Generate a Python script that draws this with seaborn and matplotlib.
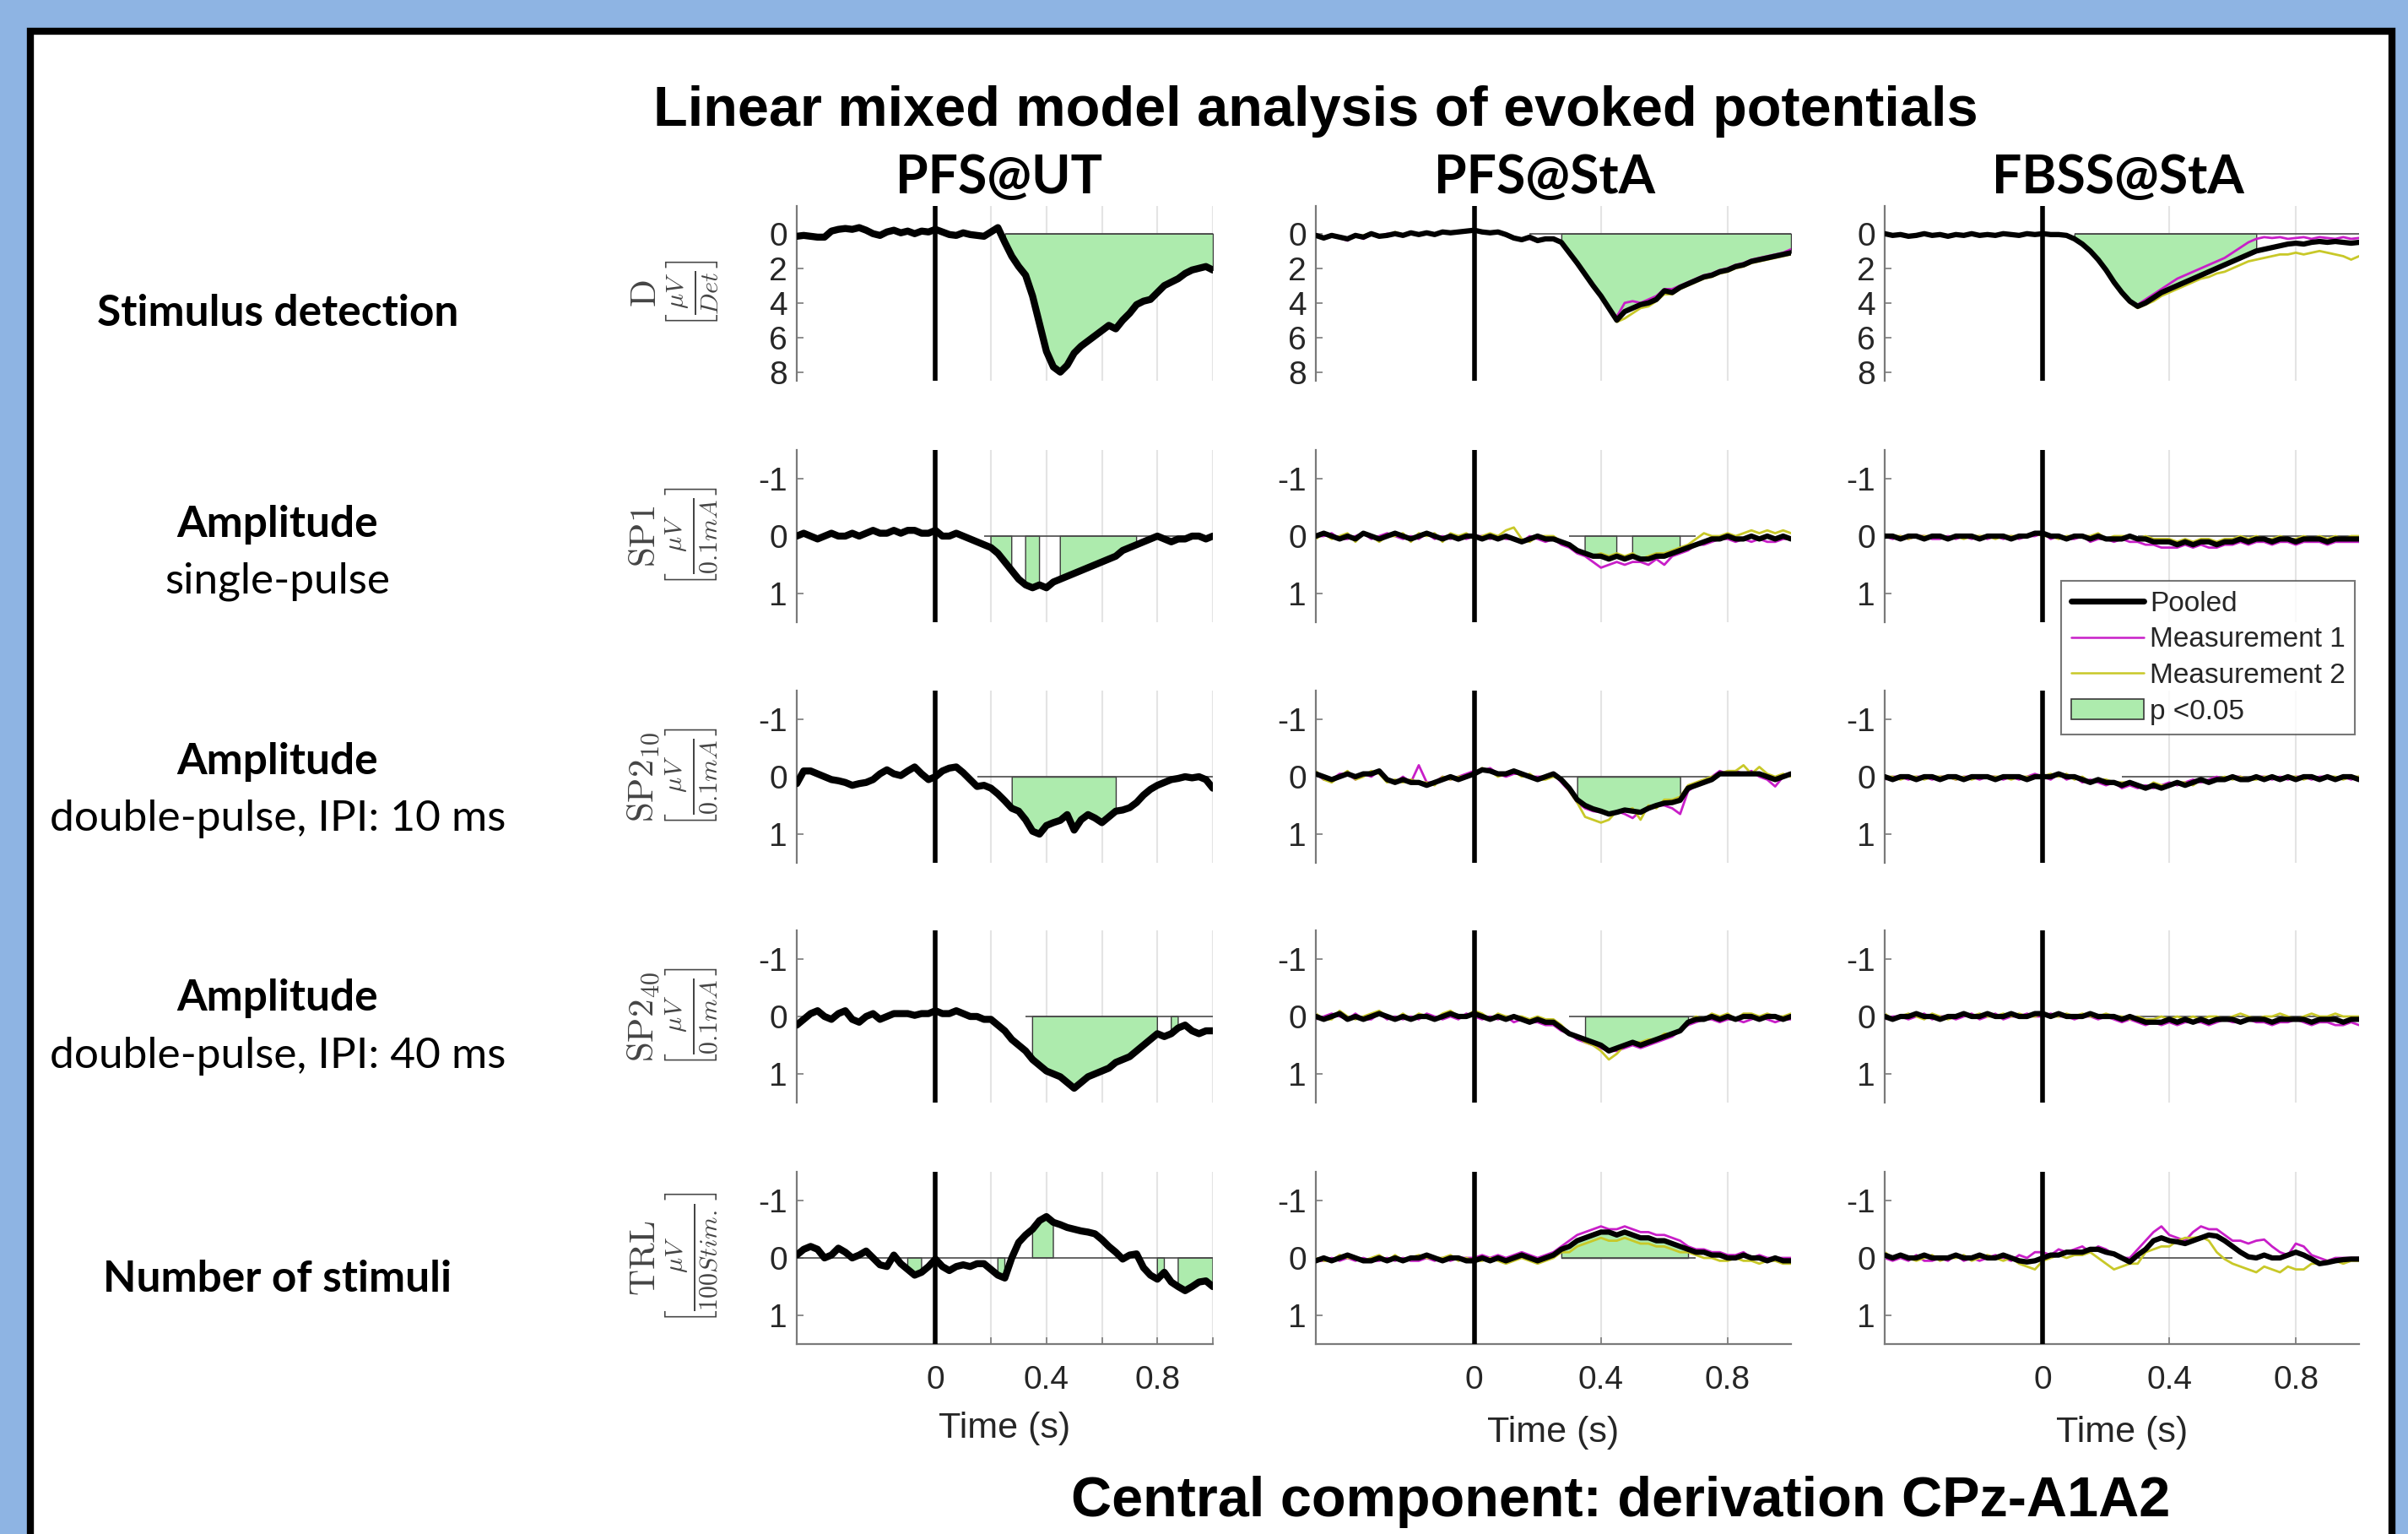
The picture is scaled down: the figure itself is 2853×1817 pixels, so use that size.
import numpy as np
import matplotlib
matplotlib.use("Agg")
import matplotlib.pyplot as plt
import seaborn as sns
from matplotlib.lines import Line2D
from matplotlib.patches import Patch, Rectangle

# time axis (s), one sample every 25 ms
t = np.linspace(-0.5, 1.0, 61)

# ---- row 1: stimulus detection (D) ----
d_ut = [0.15, 0.1, 0.15, 0.2, 0.2, -0.15, -0.25, -0.3, -0.25, -0.35,
        -0.2, 0.0, 0.1, -0.1, -0.2, -0.05, -0.15, 0.0, -0.15, -0.1,
        -0.25, -0.1, 0.05, 0.1, -0.05, 0.05, 0.1, 0.15, -0.1, -0.35,
        0.5, 1.3, 1.9, 2.4, 3.6, 5.2, 6.8, 7.7, 8.0, 7.6,
        6.9, 6.5, 6.2, 5.9, 5.6, 5.3, 5.5, 5.0, 4.6, 4.1,
        3.9, 3.8, 3.4, 3.0, 2.8, 2.6, 2.3, 2.1, 2.0, 1.9, 2.1]
d_sta = [0.1, 0.25, 0.1, 0.2, 0.3, 0.1, 0.2, 0.0, 0.15, 0.1,
         0.0, 0.1, -0.05, 0.05, -0.05, 0.05, -0.1, -0.05, -0.1, -0.15,
         -0.2, -0.1, -0.05, -0.1, 0.05, 0.25, 0.35, 0.2, 0.4, 0.3,
         0.3, 0.5, 1.1, 1.7, 2.35, 3.0, 3.6, 4.3, 5.0, 4.5,
         4.3, 4.1, 4.0, 3.8, 3.3, 3.4, 3.1, 2.9, 2.7, 2.5,
         2.4, 2.2, 2.1, 1.9, 1.8, 1.6, 1.5, 1.4, 1.3, 1.2, 1.1]
d_sta_m1 = [0.0, 0.3, 0.15, 0.25, 0.4, 0.1, 0.3, 0.05, 0.2, 0.0,
            0.05, 0.15, -0.1, 0.1, -0.1, 0.1, -0.05, -0.1, -0.05, -0.2,
            -0.15, -0.15, 0.0, -0.05, 0.1, 0.25, 0.3, 0.3, 0.45, 0.35,
            0.3, 0.55, 1.1, 1.7, 2.3, 3.0, 3.6, 4.3, 4.8, 4.0,
            3.9, 4.0, 3.8, 3.6, 3.2, 3.2, 3.0, 2.8, 2.6, 2.4,
            2.3, 2.1, 2.0, 1.8, 1.7, 1.5, 1.4, 1.3, 1.2, 1.1, 0.9]
d_sta_m2 = [0.15, 0.2, 0.05, 0.15, 0.25, 0.15, 0.1, -0.05, 0.1, 0.15,
            -0.1, 0.05, 0.0, 0.0, -0.1, 0.0, -0.15, 0.0, -0.15, -0.1,
            -0.25, -0.05, -0.1, -0.15, 0.0, 0.2, 0.4, 0.15, 0.35, 0.3,
            0.3, 0.5, 1.2, 1.8, 2.45, 3.1, 3.7, 4.4, 5.1, 4.9,
            4.6, 4.3, 4.2, 3.9, 3.5, 3.5, 3.2, 3.0, 2.8, 2.6,
            2.5, 2.3, 2.2, 2.0, 1.9, 1.7, 1.6, 1.5, 1.4, 1.3, 1.2]
d_fbss = [0.0, 0.1, 0.05, 0.15, 0.1, 0.0, 0.1, 0.05, 0.15, 0.05,
          0.1, 0.0, 0.1, 0.05, 0.1, 0.0, 0.05, 0.1, 0.0, 0.05,
          0.0, 0.05, 0.05, 0.1, 0.3, 0.6, 1.0, 1.5, 2.1, 2.8,
          3.4, 3.9, 4.2, 4.0, 3.7, 3.4, 3.2, 3.0, 2.8, 2.6,
          2.4, 2.2, 2.0, 1.8, 1.6, 1.4, 1.2, 1.0, 0.9, 0.8,
          0.7, 0.6, 0.55, 0.6, 0.5, 0.45, 0.5, 0.45, 0.5, 0.55, 0.5]
d_fbss_m1 = [0.05, 0.15, 0.0, 0.1, 0.15, 0.05, 0.05, 0.1, 0.2, 0.0,
             0.15, 0.05, 0.05, 0.1, 0.15, -0.05, 0.1, 0.05, 0.05, 0.0,
             0.05, 0.0, 0.1, 0.05, 0.3, 0.6, 1.0, 1.5, 2.1, 2.8,
             3.4, 3.9, 4.1, 3.8, 3.5, 3.2, 2.9, 2.6, 2.4, 2.2,
             2.0, 1.8, 1.6, 1.4, 1.1, 0.8, 0.5, 0.3, 0.2, 0.25,
             0.2, 0.3, 0.25, 0.2, 0.3, 0.2, 0.25, 0.3, 0.2, 0.3, 0.25]
d_fbss_m2 = [0.0, 0.05, 0.1, 0.2, 0.05, -0.05, 0.15, 0.0, 0.1, 0.1,
             0.05, -0.05, 0.15, 0.0, 0.05, 0.05, 0.0, 0.15, -0.05, 0.1,
             -0.05, 0.1, 0.0, 0.15, 0.35, 0.6, 1.05, 1.55, 2.2, 2.9,
             3.5, 4.0, 4.3, 4.1, 3.9, 3.6, 3.4, 3.2, 3.0, 2.8,
             2.6, 2.5, 2.3, 2.2, 2.0, 1.8, 1.6, 1.5, 1.4, 1.3,
             1.2, 1.2, 1.1, 1.2, 1.1, 1.0, 1.1, 1.2, 1.3, 1.5, 1.3]

# ---- row 2: amplitude single-pulse (SP1) ----
sp1_ut = [0.0, -0.05, 0.0, 0.05, 0.0, -0.05, 0.0, 0.0, -0.05, 0.0,
          -0.05, -0.1, -0.05, -0.05, -0.1, -0.05, -0.1, -0.1, -0.05, -0.05,
          -0.1, 0.0, 0.0, -0.05, 0.0, 0.05, 0.1, 0.15, 0.2, 0.3,
          0.45, 0.6, 0.75, 0.85, 0.9, 0.85, 0.9, 0.8, 0.75, 0.7,
          0.65, 0.6, 0.55, 0.5, 0.45, 0.4, 0.35, 0.25, 0.2, 0.15,
          0.1, 0.05, 0.0, 0.05, 0.1, 0.05, 0.05, 0.0, 0.0, 0.05, 0.0]
sp1_sta = [0.0, -0.05, 0.0, 0.05, 0.0, 0.05, -0.05, 0.0, 0.05, 0.0,
           -0.05, 0.0, 0.05, 0.0, -0.05, 0.0, 0.05, 0.0, 0.05, 0.0,
           0.0, 0.05, 0.0, 0.05, 0.0, 0.05, 0.1, 0.05, 0.0, 0.05,
           0.05, 0.1, 0.15, 0.25, 0.3, 0.35, 0.35, 0.4, 0.35, 0.4,
           0.35, 0.4, 0.4, 0.35, 0.35, 0.3, 0.25, 0.2, 0.15, 0.1,
           0.05, 0.05, 0.0, 0.05, 0.05, 0.0, 0.05, 0.0, 0.05, 0.0, 0.05]
sp1_sta_m1 = [0.0, 0.0, -0.05, 0.05, 0.05, 0.0, -0.05, 0.05, 0.0, -0.05,
              0.0, 0.05, 0.0, 0.05, -0.05, 0.05, 0.0, 0.05, 0.0, 0.05,
              0.0, 0.0, 0.05, 0.0, 0.05, 0.05, 0.1, 0.0, 0.05, 0.1,
              0.05, 0.15, 0.2, 0.3, 0.35, 0.45, 0.55, 0.5, 0.45, 0.5,
              0.45, 0.45, 0.5, 0.4, 0.5, 0.35, 0.3, 0.25, 0.15, 0.15,
              0.1, 0.05, 0.05, 0.1, 0.05, 0.1, 0.05, 0.1, 0.1, 0.05, 0.05]
sp1_sta_m2 = [0.05, -0.05, 0.05, 0.0, -0.05, 0.1, -0.05, 0.0, 0.1, 0.0,
              0.0, -0.05, 0.1, -0.05, 0.0, -0.05, 0.1, -0.05, 0.0, -0.05,
              0.05, 0.0, -0.05, 0.0, -0.1, -0.15, 0.05, 0.1, 0.0, 0.0,
              0.0, 0.1, 0.15, 0.25, 0.3, 0.35, 0.3, 0.35, 0.3, 0.35,
              0.3, 0.4, 0.35, 0.3, 0.3, 0.25, 0.2, 0.15, 0.05, -0.05,
              0.0, 0.0, -0.05, 0.0, -0.05, -0.1, -0.05, -0.1, -0.05, -0.1, -0.05]
sp1_fbss = [0.0, 0.0, 0.05, 0.0, 0.0, 0.05, 0.0, 0.0, 0.05, 0.0,
            0.0, 0.0, 0.05, 0.0, 0.0, 0.0, 0.05, 0.0, 0.0, -0.05,
            -0.05, 0.0, 0.0, 0.05, 0.0, 0.0, 0.05, 0.0, 0.05, 0.05,
            0.05, 0.0, 0.05, 0.05, 0.1, 0.1, 0.1, 0.15, 0.1, 0.15,
            0.1, 0.1, 0.15, 0.1, 0.1, 0.05, 0.1, 0.05, 0.05, 0.1,
            0.05, 0.05, 0.1, 0.05, 0.05, 0.05, 0.1, 0.05, 0.05, 0.05, 0.05]
sp1_fbss_m1 = [0.0, 0.05, 0.0, 0.05, 0.0, 0.0, 0.05, 0.05, 0.0, 0.05,
               0.0, 0.05, 0.0, 0.05, 0.0, 0.05, 0.0, 0.05, 0.0, 0.0,
               -0.05, 0.05, 0.0, 0.05, 0.05, 0.0, 0.1, 0.05, 0.05, 0.1,
               0.05, 0.1, 0.1, 0.15, 0.15, 0.2, 0.2, 0.2, 0.15, 0.2,
               0.15, 0.2, 0.2, 0.15, 0.15, 0.1, 0.15, 0.1, 0.1, 0.15,
               0.1, 0.1, 0.15, 0.1, 0.1, 0.1, 0.15, 0.1, 0.1, 0.1, 0.1]
sp1_fbss_m2 = [0.0, 0.0, 0.0, 0.05, 0.0, 0.0, 0.0, 0.0, 0.05, 0.0,
               0.05, 0.0, 0.0, 0.0, 0.05, 0.0, 0.0, 0.0, 0.0, -0.05,
               0.0, 0.0, 0.05, 0.0, 0.0, 0.0, 0.0, -0.05, 0.05, 0.0,
               0.0, 0.0, 0.05, 0.0, 0.05, 0.05, 0.05, 0.1, 0.05, 0.1,
               0.05, 0.05, 0.1, 0.05, 0.05, 0.0, 0.05, 0.0, 0.05, 0.05,
               0.0, 0.05, 0.05, 0.0, 0.05, 0.0, 0.05, 0.0, 0.05, 0.0, 0.0]

# ---- row 3: amplitude double-pulse, IPI 10 ms (SP2_10) ----
sp210_ut = [0.12, -0.1, -0.1, -0.05, 0.0, 0.05, 0.07, 0.1, 0.15, 0.12,
            0.1, 0.05, -0.05, -0.12, -0.05, -0.02, -0.1, -0.17, -0.05, 0.05,
            0.0, -0.1, -0.15, -0.17, -0.07, 0.05, 0.17, 0.15, 0.2, 0.3,
            0.42, 0.55, 0.6, 0.75, 0.95, 1.0, 0.85, 0.8, 0.76, 0.66,
            0.93, 0.75, 0.66, 0.72, 0.8, 0.7, 0.6, 0.58, 0.54, 0.45,
            0.32, 0.22, 0.15, 0.1, 0.05, 0.03, 0.0, 0.02, 0.0, 0.05, 0.2]
sp210_sta = [-0.05, 0.0, 0.05, 0.0, -0.05, 0.0, -0.05, -0.05, -0.1, 0.05,
             0.1, 0.05, 0.1, 0.1, 0.15, 0.1, 0.05, 0.0, 0.05, 0.0,
             -0.05, -0.12, -0.1, -0.05, -0.05, -0.1, -0.05, 0.0, 0.05, 0.0,
             -0.05, 0.05, 0.2, 0.4, 0.5, 0.56, 0.6, 0.65, 0.62, 0.58,
             0.6, 0.62, 0.55, 0.5, 0.46, 0.45, 0.41, 0.2, 0.15, 0.1,
             0.05, -0.05, -0.05, -0.05, -0.05, -0.05, -0.05, 0.0, 0.05, 0.0, -0.05]
sp210_sta_m1 = [-0.05, 0.05, 0.05, -0.05, -0.05, 0.05, -0.05, 0.0, -0.1, 0.05,
                0.1, 0.0, 0.1, -0.2, 0.1, 0.1, 0.0, 0.05, 0.0, -0.05,
                -0.1, -0.1, -0.15, -0.05, 0.0, -0.05, -0.05, 0.0, 0.0, 0.0,
                -0.05, 0.1, 0.25, 0.45, 0.55, 0.6, 0.62, 0.65, 0.6, 0.65,
                0.72, 0.6, 0.55, 0.5, 0.5, 0.55, 0.65, 0.25, 0.15, 0.1,
                0.0, -0.1, -0.05, -0.1, -0.05, -0.1, 0.0, 0.05, 0.17, 0.0, -0.05]
sp210_sta_m2 = [-0.1, 0.05, 0.1, 0.0, -0.1, 0.05, 0.0, -0.1, -0.05, 0.1,
                0.05, 0.1, 0.05, 0.1, 0.1, 0.15, 0.0, 0.05, 0.0, 0.0,
                -0.05, -0.15, -0.1, 0.0, -0.05, -0.1, 0.0, -0.05, 0.05, 0.05,
                0.0, 0.05, 0.25, 0.45, 0.7, 0.75, 0.8, 0.75, 0.6, 0.6,
                0.55, 0.75, 0.5, 0.55, 0.4, 0.4, 0.35, 0.15, 0.1, 0.05,
                0.0, -0.05, -0.1, -0.1, -0.2, -0.05, -0.17, -0.05, 0.0, -0.05, 0.0]
sp210_fbss = [0.0, 0.05, 0.0, 0.0, 0.05, 0.0, 0.0, 0.05, 0.0, 0.0,
              0.05, 0.0, 0.0, 0.0, 0.05, 0.0, 0.0, 0.0, 0.05, 0.0,
              0.0, 0.0, -0.05, 0.0, 0.0, 0.05, 0.1, 0.05, 0.1, 0.1,
              0.15, 0.1, 0.15, 0.2, 0.15, 0.2, 0.15, 0.1, 0.15, 0.1,
              0.05, 0.1, 0.05, 0.05, 0.0, 0.05, 0.05, 0.0, 0.05, 0.0,
              0.05, 0.0, 0.05, 0.0, 0.0, 0.05, 0.0, 0.05, 0.0, 0.0, 0.05]
sp210_fbss_m1 = [0.05, 0.0, 0.0, 0.05, 0.0, 0.0, 0.05, 0.0, 0.0, 0.05,
                 0.0, 0.0, 0.05, 0.0, 0.0, 0.05, 0.0, 0.05, 0.0, -0.05,
                 0.0, 0.05, -0.05, 0.05, 0.0, 0.1, 0.05, 0.1, 0.15, 0.1,
                 0.2, 0.15, 0.2, 0.15, 0.2, 0.15, 0.1, 0.15, 0.1, 0.05,
                 0.1, 0.05, 0.0, 0.05, 0.0, 0.0, 0.05, 0.0, 0.0, 0.05,
                 0.0, 0.05, 0.0, 0.0, 0.05, 0.0, 0.0, 0.05, 0.0, 0.05, 0.0]
sp210_fbss_m2 = [0.0, 0.0, 0.05, 0.0, 0.0, 0.05, 0.0, 0.0, 0.0, 0.05,
                 0.0, 0.05, 0.0, 0.0, 0.0, 0.0, 0.05, 0.0, 0.0, 0.0,
                 0.0, -0.05, 0.0, -0.05, 0.05, 0.0, 0.1, 0.05, 0.05, 0.1,
                 0.1, 0.1, 0.15, 0.2, 0.1, 0.15, 0.15, 0.1, 0.1, 0.15,
                 0.05, 0.1, 0.05, 0.0, 0.05, 0.0, 0.05, 0.05, 0.0, 0.0,
                 0.05, 0.0, 0.0, 0.05, 0.0, 0.05, 0.0, 0.0, 0.05, 0.0, 0.0]

# ---- row 4: amplitude double-pulse, IPI 40 ms (SP2_40) ----
sp240_ut = [0.15, 0.05, -0.05, -0.1, 0.0, 0.05, -0.05, -0.1, 0.05, 0.1,
            0.0, -0.05, 0.05, 0.0, -0.05, -0.05, -0.05, -0.02, -0.05, -0.05,
            -0.1, -0.05, -0.05, -0.1, -0.05, 0.0, 0.0, 0.05, 0.05, 0.15,
            0.25, 0.4, 0.5, 0.6, 0.75, 0.85, 0.95, 1.0, 1.05, 1.15,
            1.25, 1.15, 1.05, 1.0, 0.95, 0.9, 0.8, 0.75, 0.7, 0.6,
            0.5, 0.4, 0.3, 0.35, 0.3, 0.2, 0.15, 0.25, 0.3, 0.25, 0.25]
sp240_sta = [0.0, 0.05, 0.0, -0.05, 0.05, 0.0, 0.05, 0.0, -0.05, 0.0,
             0.05, 0.0, 0.05, 0.0, 0.0, 0.05, 0.0, -0.05, 0.0, 0.0,
             -0.05, 0.0, 0.05, 0.0, 0.05, 0.0, 0.05, 0.1, 0.05, 0.1,
             0.1, 0.2, 0.3, 0.35, 0.4, 0.45, 0.5, 0.6, 0.55, 0.5,
             0.45, 0.5, 0.45, 0.4, 0.35, 0.3, 0.25, 0.1, 0.05, 0.05,
             0.0, 0.05, 0.0, 0.05, 0.0, 0.0, 0.05, 0.0, 0.0, 0.05, 0.0]
sp240_sta_m1 = [0.05, 0.0, -0.05, 0.0, 0.05, -0.05, 0.05, 0.05, -0.05, 0.05,
                0.0, 0.05, 0.0, 0.05, -0.05, 0.0, 0.05, 0.0, 0.05, -0.05,
                0.0, 0.05, 0.0, 0.05, 0.0, 0.1, 0.05, 0.1, 0.1, 0.15,
                0.15, 0.25, 0.3, 0.4, 0.45, 0.5, 0.55, 0.6, 0.6, 0.55,
                0.5, 0.55, 0.5, 0.45, 0.4, 0.35, 0.25, 0.15, 0.1, 0.05,
                0.05, 0.1, 0.05, 0.05, 0.1, 0.05, 0.0, 0.05, 0.1, 0.05, 0.05]
sp240_sta_m2 = [-0.05, 0.05, 0.05, -0.1, 0.0, 0.05, 0.0, -0.05, -0.1, 0.0,
                0.05, -0.05, 0.05, -0.05, 0.0, 0.05, -0.05, -0.1, 0.0, 0.0,
                -0.1, -0.05, 0.05, -0.05, 0.0, 0.0, 0.0, 0.05, 0.0, 0.05,
                0.05, 0.15, 0.3, 0.35, 0.45, 0.5, 0.6, 0.75, 0.65, 0.5,
                0.45, 0.45, 0.4, 0.4, 0.3, 0.3, 0.25, 0.1, 0.0, 0.05,
                -0.05, 0.0, -0.05, 0.05, -0.05, -0.05, 0.0, -0.05, 0.0, 0.0, -0.05]
sp240_fbss = [0.0, 0.05, 0.0, 0.0, -0.05, 0.0, 0.0, 0.05, 0.0, 0.0,
              -0.05, 0.0, 0.0, -0.05, 0.0, 0.0, -0.05, 0.0, 0.0, -0.05,
              -0.05, 0.0, -0.05, 0.0, 0.0, 0.0, -0.05, 0.0, 0.0, 0.0,
              0.05, 0.0, 0.05, 0.1, 0.1, 0.1, 0.05, 0.1, 0.05, 0.1,
              0.05, 0.1, 0.05, 0.05, 0.05, 0.1, 0.05, 0.05, 0.05, 0.1,
              0.05, 0.05, 0.05, 0.05, 0.1, 0.05, 0.05, 0.05, 0.1, 0.05, 0.05]
sp240_fbss_m1 = [0.05, 0.0, 0.0, 0.05, 0.0, -0.05, 0.05, 0.0, 0.0, 0.05,
                 0.0, -0.05, 0.05, 0.0, -0.05, 0.05, 0.0, 0.0, -0.05, 0.0,
                 0.0, -0.05, 0.0, 0.0, 0.05, 0.0, 0.0, 0.05, 0.0, 0.05,
                 0.1, 0.05, 0.1, 0.15, 0.1, 0.15, 0.1, 0.15, 0.1, 0.1,
                 0.1, 0.15, 0.1, 0.05, 0.1, 0.1, 0.05, 0.1, 0.1, 0.15,
                 0.1, 0.1, 0.05, 0.1, 0.15, 0.1, 0.1, 0.15, 0.15, 0.1, 0.15]
sp240_fbss_m2 = [-0.05, 0.05, 0.0, -0.05, 0.0, 0.05, -0.05, 0.0, 0.05, 0.0,
                 -0.05, 0.0, -0.05, 0.0, 0.0, -0.05, 0.0, -0.05, 0.0, 0.0,
                 -0.05, 0.0, 0.0, -0.05, 0.0, -0.05, 0.0, 0.0, -0.05, 0.0,
                 0.0, 0.05, 0.0, 0.05, 0.05, 0.0, 0.05, 0.0, 0.05, 0.0,
                 0.05, 0.0, 0.0, 0.05, 0.0, -0.05, 0.0, 0.05, 0.0, 0.0,
                 -0.05, 0.0, 0.05, 0.0, -0.05, 0.0, 0.0, -0.05, 0.0, 0.0, 0.0]

# ---- row 5: number of stimuli (TRL) ----
trl_ut = [-0.05, -0.15, -0.2, -0.15, 0.0, -0.05, -0.17, -0.1, 0.0, -0.05,
          -0.12, 0.0, 0.12, 0.15, -0.05, 0.1, 0.2, 0.3, 0.25, 0.15,
          0.02, 0.15, 0.22, 0.15, 0.12, 0.15, 0.1, 0.1, 0.2, 0.3,
          0.35, 0.0, -0.27, -0.4, -0.5, -0.65, -0.72, -0.62, -0.58, -0.53,
          -0.5, -0.47, -0.45, -0.42, -0.32, -0.2, -0.1, 0.02, -0.05, -0.07,
          0.17, 0.3, 0.37, 0.25, 0.42, 0.5, 0.57, 0.5, 0.42, 0.4, 0.5]
trl_sta = [0.05, 0.0, 0.05, 0.0, -0.05, 0.0, 0.05, 0.05, 0.0, 0.05,
           0.0, 0.05, 0.0, 0.0, -0.05, 0.0, 0.05, 0.0, 0.0, 0.05,
           0.05, 0.0, 0.05, 0.0, 0.05, 0.0, -0.05, 0.0, 0.05, 0.0,
           -0.05, -0.15, -0.2, -0.3, -0.35, -0.4, -0.45, -0.45, -0.4, -0.45,
           -0.4, -0.35, -0.35, -0.3, -0.3, -0.25, -0.2, -0.15, -0.1, -0.1,
           -0.05, -0.05, 0.0, 0.0, -0.05, 0.0, 0.0, 0.05, 0.0, 0.05, 0.05]
trl_sta_m1 = [0.05, 0.05, 0.0, 0.05, 0.0, 0.05, 0.0, 0.05, 0.05, 0.0,
              0.05, 0.0, 0.05, 0.05, 0.0, 0.05, 0.0, 0.05, 0.0, 0.0,
              0.0, -0.05, 0.0, -0.05, 0.0, -0.05, -0.1, -0.05, 0.0, -0.05,
              -0.1, -0.2, -0.3, -0.4, -0.45, -0.5, -0.55, -0.5, -0.5, -0.55,
              -0.5, -0.45, -0.45, -0.4, -0.4, -0.35, -0.3, -0.2, -0.15, -0.15,
              -0.1, -0.1, -0.05, -0.05, -0.1, 0.0, -0.05, 0.0, 0.0, 0.0, 0.0]
trl_sta_m2 = [0.0, 0.05, 0.05, -0.05, 0.0, 0.0, 0.05, 0.0, -0.05, 0.05,
              -0.05, 0.05, 0.0, -0.05, 0.0, 0.0, 0.0, -0.05, 0.05, 0.0,
              0.05, 0.05, 0.0, 0.05, 0.1, 0.05, 0.0, 0.05, 0.1, 0.05,
              0.0, -0.1, -0.1, -0.2, -0.25, -0.3, -0.35, -0.3, -0.3, -0.35,
              -0.3, -0.25, -0.25, -0.2, -0.2, -0.15, -0.1, -0.1, -0.05, 0.0,
              0.0, 0.05, 0.05, 0.0, 0.05, 0.05, 0.1, 0.05, 0.05, 0.1, 0.1]
trl_fbss = [-0.05, 0.0, -0.05, 0.0, 0.0, -0.05, 0.0, 0.0, 0.0, -0.05,
            0.0, 0.0, -0.05, 0.0, 0.0, -0.05, 0.0, 0.05, 0.07, 0.05,
            0.0, -0.05, -0.05, -0.1, -0.1, -0.1, -0.15, -0.15, -0.1, -0.07,
            0.0, 0.07, -0.05, -0.15, -0.3, -0.35, -0.3, -0.28, -0.25, -0.3,
            -0.35, -0.4, -0.38, -0.3, -0.2, -0.1, -0.02, 0.0, -0.05, 0.0,
            0.0, -0.05, -0.1, -0.05, 0.02, 0.1, 0.08, 0.05, 0.03, 0.02, 0.02]
trl_fbss_m1 = [0.0, 0.05, 0.0, 0.05, -0.05, 0.05, 0.05, 0.0, 0.05, -0.05,
               0.05, 0.0, 0.05, 0.0, -0.05, 0.0, 0.05, -0.05, 0.0, -0.1,
               -0.1, -0.05, -0.15, -0.1, -0.15, -0.2, -0.1, -0.2, -0.15, -0.05,
               0.0, 0.0, -0.15, -0.3, -0.45, -0.55, -0.4, -0.35, -0.3, -0.45,
               -0.55, -0.5, -0.5, -0.4, -0.3, -0.3, -0.25, -0.3, -0.32, -0.2,
               -0.1, -0.05, -0.25, -0.2, -0.05, 0.0, 0.05, 0.0, 0.0, 0.0, 0.0]
trl_fbss_m2 = [-0.1, 0.0, -0.05, 0.0, 0.05, 0.0, -0.05, 0.05, 0.0, 0.0,
               -0.05, 0.05, 0.0, -0.05, 0.0, 0.05, 0.0, 0.1, 0.15, 0.2,
               0.05, 0.0, -0.05, 0.0, -0.05, -0.05, -0.1, 0.0, 0.1, 0.2,
               0.15, 0.1, 0.1, -0.1, -0.15, -0.2, -0.2, -0.3, -0.35, -0.35,
               -0.37, -0.3, -0.1, 0.02, 0.1, 0.15, 0.2, 0.25, 0.15, 0.2,
               0.25, 0.15, 0.2, 0.2, 0.1, 0.1, 0.05, 0.05, 0.1, 0.05, 0.05]

# significant windows (p < 0.05), in s
sig_windows = [
    [[(0.25, 1.0)], [(0.275, 1.0)], [(0.1, 0.675)]],
    [[(0.2, 0.275), (0.325, 0.375), (0.45, 0.725)], [(0.35, 0.45), (0.5, 0.65)], []],
    [[(0.275, 0.3), (0.325, 0.45), (0.475, 0.55), (0.575, 0.65)], [(0.325, 0.65)], []],
    [[(0.35, 0.8), (0.85, 0.875)], [(0.35, 0.675)], []],
    [[(-0.1, -0.05), (0.225, 0.25), (0.35, 0.425), (0.8, 0.825), (0.875, 1.0)], [(0.275, 0.675)], []],
]
# extent of the thin zero reference line drawn by the area outline
zero_spans = [
    [(0.25, 1.0), (0.175, 1.0), (0.1, 1.0)],
    [(0.175, 1.0), (0.3, 0.7), (0.3, 1.0)],
    [(0.15, 1.0), (0.275, 0.75), (0.25, 1.0)],
    [(0.325, 1.0), (0.3, 0.75), (0.3, 1.0)],
    [(-0.5, 1.0), (0.275, 0.7), (0.3, 0.6)],
]

pooled = [[d_ut, d_sta, d_fbss],
          [sp1_ut, sp1_sta, sp1_fbss],
          [sp210_ut, sp210_sta, sp210_fbss],
          [sp240_ut, sp240_sta, sp240_fbss],
          [trl_ut, trl_sta, trl_fbss]]
meas1 = [[None, d_sta_m1, d_fbss_m1],
         [None, sp1_sta_m1, sp1_fbss_m1],
         [None, sp210_sta_m1, sp210_fbss_m1],
         [None, sp240_sta_m1, sp240_fbss_m1],
         [None, trl_sta_m1, trl_fbss_m1]]
meas2 = [[None, d_sta_m2, d_fbss_m2],
         [None, sp1_sta_m2, sp1_fbss_m2],
         [None, sp210_sta_m2, sp210_fbss_m2],
         [None, sp240_sta_m2, sp240_fbss_m2],
         [None, trl_sta_m2, trl_fbss_m2]]

col_titles = ["PFS@UT", "PFS@StA", "FBSS@StA"]
row_titles = [("Stimulus detection", None), ("Amplitude", "single-pulse"),
              ("Amplitude", "double-pulse, IPI: 10 ms"),
              ("Amplitude", "double-pulse, IPI: 40 ms"), ("Number of stimuli", None)]
y_labels = [r"$\mathrm{D}$" + "\n" + r"$\left[\frac{\mu V}{Det}\right]$",
            r"$\mathrm{SP1}$" + "\n" + r"$\left[\frac{\mu V}{0.1mA}\right]$",
            r"$\mathrm{SP2}_{10}$" + "\n" + r"$\left[\frac{\mu V}{0.1mA}\right]$",
            r"$\mathrm{SP2}_{40}$" + "\n" + r"$\left[\frac{\mu V}{0.1mA}\right]$",
            r"$\mathrm{TRL}$" + "\n" + r"$\left[\frac{\mu V}{100Stim.}\right]$"]

# ---------------- style ----------------
sns.set_style("white")
plt.rcParams["font.family"] = ["Liberation Sans", "DejaVu Sans"]
plt.rcParams["mathtext.fontset"] = "cm"
plt.rcParams["axes.unicode_minus"] = False

GREEN = "#adebad"
MAG = "#c81ec8"
YEL = "#c8c828"
AXC = "#7a7a7a"
TXT = "#262626"

W, H = 2853, 1817
fig = plt.figure(figsize=(W / 100, H / 100), dpi=100, facecolor="#8eb4e3")
fig.patches.append(Rectangle((36 / W, -0.05), (2834 - 36) / W, 1.05 - 37 / H,
                             transform=fig.transFigure, facecolor="white",
                             edgecolor="black", lw=6, zorder=-10))

col_x = [(944, 1437), (1559, 2122), (2233, 2795)]
row_y = [(244, 451), (533, 737), (818, 1022), (1102, 1306), (1388, 1592)]
row_ylim = [(8.5, -1.6), (1.5, -1.5), (1.5, -1.5), (1.5, -1.5), (1.5, -1.5)]
row_yticks = [[0, 2, 4, 6, 8], [-1, 0, 1], [-1, 0, 1], [-1, 0, 1], [-1, 0, 1]]
col_xticks = [[0, 0.2, 0.4, 0.6, 0.8, 1.0], [0, 0.4, 0.8], [0, 0.4, 0.8]]
pooled_lw = [6, 4.5, 4.5]

for r in range(5):
    for c in range(3):
        x0, x1 = col_x[c]
        y0, y1 = row_y[r]
        ax = fig.add_axes([x0 / W, 1 - y1 / H, (x1 - x0) / W, (y1 - y0) / H])
        ax.set_facecolor("none")
        y = np.array(pooled[r][c])

        mask = np.zeros(len(t), dtype=bool)
        for a, b in sig_windows[r][c]:
            mask |= (t >= a - 1e-9) & (t <= b + 1e-9)
        if mask.any():
            ax.fill_between(t, 0, y, where=mask, facecolor=GREEN,
                            edgecolor="#3a3a3a", lw=1.0, zorder=1)
        zs = zero_spans[r][c]
        ax.hlines(0, zs[0], zs[1], color="#4a4a4a", lw=1.2, zorder=1.5)

        if meas1[r][c] is not None:
            sns.lineplot(x=t, y=meas1[r][c], ax=ax, color=MAG, lw=2.0, zorder=2)
            sns.lineplot(x=t, y=meas2[r][c], ax=ax, color=YEL, lw=2.0, zorder=2.1)
        sns.lineplot(x=t, y=y, ax=ax, color="black", lw=pooled_lw[c], zorder=3)
        ax.axvline(0, color="black", lw=4, zorder=4)

        ax.set_xlim(-0.5, 1.0)
        ax.set_ylim(*row_ylim[r])
        ax.set_yticks(row_yticks[r])
        ax.set_yticklabels([str(v) for v in row_yticks[r]])
        ax.set_xticks(col_xticks[c])
        ax.grid(axis="x", color="#e4e4e4", lw=1.5)
        ax.grid(axis="y", visible=False)
        ax.set_axisbelow(True)
        for s in ["top", "right"]:
            ax.spines[s].set_visible(False)
        ax.spines["left"].set_color(AXC)
        ax.spines["left"].set_linewidth(1.6)
        ax.tick_params(axis="y", direction="in", length=6, width=1.2, color=AXC,
                       labelsize=28, labelcolor=TXT, pad=8, left=True)
        if r == 4:
            ax.spines["bottom"].set_color(AXC)
            ax.spines["bottom"].set_linewidth(1.6)
            labels = ["0" if v == 0 else ("%g" % v if v in (0.4, 0.8) else "") for v in col_xticks[c]]
            ax.set_xticklabels(labels)
            ax.tick_params(axis="x", direction="in", length=6, width=1.2, color=AXC,
                           labelsize=28, labelcolor=TXT, pad=18, bottom=True)
            ax.set_xlabel("Time (s)", fontsize=31, color=TXT, labelpad=14 if c == 0 else 17)
        else:
            ax.spines["bottom"].set_visible(False)
            ax.tick_params(axis="x", bottom=False, labelbottom=False)
        ax.set_ylabel("")
        if c == 0:
            ax.set_ylabel(y_labels[r], fontsize=31, color="#444444", linespacing=1.0)
            ax.yaxis.set_label_coords(-0.185, 0.5)

# legend
handles = [Line2D([], [], color="black", lw=5),
           Line2D([], [], color=MAG, lw=1.8),
           Line2D([], [], color=YEL, lw=1.8),
           Patch(facecolor=GREEN, edgecolor="#3a3a3a", lw=1.2)]
leg = fig.legend(handles, ["Pooled", "Measurement 1", "Measurement 2", "p <0.05"],
                 loc="upper left", bbox_to_anchor=(2442 / W, 1 - 688 / H),
                 fontsize=24, frameon=True, fancybox=False, edgecolor="#555555",
                 borderpad=0.35, labelspacing=0.35, handlelength=2.6,
                 handletextpad=0.2, borderaxespad=0)
leg.get_frame().set_linewidth(1.5)
for txt in leg.get_texts():
    txt.set_color(TXT)

# texts
fig.text(1559 / W, 1 - 132 / H, "Linear mixed model analysis of evoked potentials",
         ha="center", va="center", fontsize=48, fontweight="bold", color="black")
for cx, title in zip([1184, 1830, 2509], col_titles):
    fig.text(cx / W, 1 - 211 / H, title, ha="center", va="center", fontsize=45,
             fontweight="bold", family="Lato", color="black")
row_centers = [371, 655, 936, 1217, 1515]
for cy, (main, sub) in zip(row_centers, row_titles):
    if sub is None:
        fig.text(329 / W, 1 - cy / H, main, ha="center", va="center", fontsize=37,
                 fontweight="bold", family="Lato", color="black")
    else:
        fig.text(329 / W, 1 - (cy - 34) / H, main, ha="center", va="center", fontsize=37,
                 fontweight="bold", family="Lato", color="black")
        fig.text(329 / W, 1 - (cy + 34) / H, sub, ha="center", va="center", fontsize=37,
                 family="Lato", color="black")
fig.text(1920 / W, 1 - 1779 / H, "Central component: derivation CPz-A1A2",
         ha="center", va="center", fontsize=48, fontweight="bold", color="black")

fig.savefig("out.png", dpi=100, facecolor=fig.get_facecolor())
